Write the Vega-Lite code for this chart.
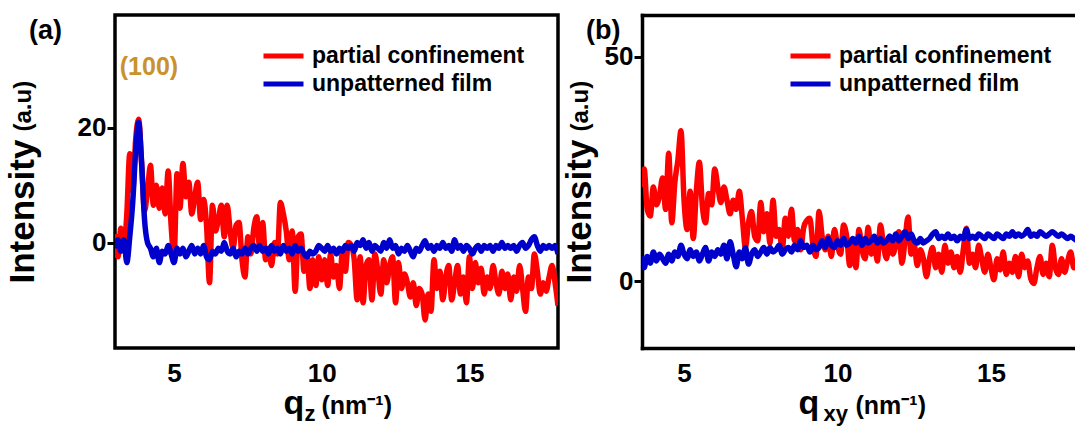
{
  "$schema": "https://vega.github.io/schema/vega-lite/v6.json",
  "padding": {"left": 3, "top": 13, "right": 0, "bottom": 0},
  "spacing": 2,
  "config": {
    "font": "Liberation Sans",
    "view": {"stroke": null},
    "axis": {"labelFont": "Liberation Sans", "titleFont": "Liberation Sans", "labelFontWeight": "bold", "titleFontWeight": "bold", "labelColor": "#000", "titleColor": "#000", "tickColor": "#000", "domainColor": "#000", "grid": false},
    "legend": {"symbolType": "stroke", "symbolSize": 1600, "symbolStrokeWidth": 5, "clipHeight": 28, "labelFont": "Liberation Sans", "labelFontSize": 23, "labelFontWeight": "bold", "labelColor": "#000", "labelOffset": 6, "labelLimit": 400, "rowPadding": 0, "padding": 0, "title": null, "orient": "none", "legendX": 146, "legendY": 27},
    "title": {"font": "Liberation Sans", "fontSize": 27, "fontWeight": "bold", "color": "#000", "anchor": "start", "frame": "group", "baseline": "alphabetic"}
  },
  "datasets": {
    "ann": [{"q": 4.15, "I": 29.2, "t": "(100)"}],
    "dummy": [{"q": 10, "I": 0}],
    "a": [
      {"q":3.0,"r":1.5,"b":-1},{"q":3.1,"r":-2.5,"b":0.5},{"q":3.2,"r":2.5,"b":-1.5},{"q":3.3,"r":-1,"b":0.5},{"q":3.4,"r":5,"b":-3.5},
      {"q":3.5,"r":15.5,"b":1},{"q":3.6,"r":9,"b":7},{"q":3.7,"r":18,"b":16},{"q":3.8,"r":21.5,"b":21},{"q":3.9,"r":14,"b":14},
      {"q":4.0,"r":5.5,"b":4},{"q":4.1,"r":9,"b":0},{"q":4.2,"r":13.5,"b":-1},{"q":4.3,"r":6.5,"b":-2.5},{"q":4.4,"r":10,"b":-1},
      {"q":4.5,"r":6,"b":-3.5},{"q":4.6,"r":9.5,"b":-1.5},{"q":4.7,"r":5,"b":-2},{"q":4.8,"r":12.5,"b":-0.5},{"q":4.9,"r":3,"b":-2},
      {"q":5.0,"r":-2.5,"b":-3.5},{"q":5.1,"r":12,"b":-1},{"q":5.2,"r":6,"b":-2},{"q":5.3,"r":13.8,"b":-1},{"q":5.4,"r":8,"b":-2.5},
      {"q":5.5,"r":10.5,"b":-1.5},{"q":5.6,"r":5,"b":-0.5},{"q":5.7,"r":8,"b":-2},{"q":5.8,"r":10.5,"b":-1},{"q":5.9,"r":4,"b":-2},
      {"q":6.0,"r":7.5,"b":-0.5},{"q":6.1,"r":3,"b":-2.5},{"q":6.2,"r":-7,"b":-3},{"q":6.3,"r":6.5,"b":-1.5},{"q":6.4,"r":2,"b":-2},
      {"q":6.5,"r":4,"b":-1},{"q":6.6,"r":6.5,"b":-1.5},{"q":6.7,"r":1,"b":0},{"q":6.8,"r":6.5,"b":-1.5},{"q":6.9,"r":2,"b":-2},
      {"q":7.0,"r":-1,"b":-1},{"q":7.1,"r":3,"b":-2.5},{"q":7.2,"r":3.5,"b":-1.5},{"q":7.3,"r":-3,"b":-2},{"q":7.4,"r":-6,"b":-1},
      {"q":7.5,"r":1,"b":-2},{"q":7.6,"r":-2,"b":-1},{"q":7.7,"r":2.5,"b":-0.5},{"q":7.8,"r":4.5,"b":-1.5},{"q":7.9,"r":-1,"b":-0.5},
      {"q":8.0,"r":3.5,"b":-1.5},{"q":8.1,"r":-3,"b":-1},{"q":8.2,"r":-1,"b":-2},{"q":8.3,"r":-4,"b":-0.5},{"q":8.4,"r":0,"b":-1.5},
      {"q":8.5,"r":-2,"b":-1},{"q":8.6,"r":7,"b":-2},{"q":8.7,"r":5,"b":-0.5},{"q":8.8,"r":2,"b":-1.5},{"q":8.9,"r":-3,"b":-1},
      {"q":9.0,"r":2,"b":-2},{"q":9.1,"r":-8.5,"b":-0.5},{"q":9.2,"r":1,"b":-1.5},{"q":9.3,"r":1.5,"b":-1},{"q":9.4,"r":-5,"b":-2},
      {"q":9.5,"r":-2,"b":-2.5},{"q":9.6,"r":-8,"b":-1.5},{"q":9.7,"r":-3,"b":-2},{"q":9.8,"r":-7.5,"b":-1.5},{"q":9.9,"r":-2.5,"b":-0.5},
      {"q":10.0,"r":-6.5,"b":-1},{"q":10.1,"r":-3,"b":-1.5},{"q":10.2,"r":-7.5,"b":-0.5},{"q":10.3,"r":-2,"b":-1.5},{"q":10.4,"r":-6,"b":-1},
      {"q":10.5,"r":-4,"b":-2},{"q":10.6,"r":-8,"b":-1},{"q":10.7,"r":-1.5,"b":-1.5},{"q":10.8,"r":-5,"b":-0.5},{"q":10.9,"r":0,"b":-1},
      {"q":11.0,"r":-0.5,"b":-0.5},{"q":11.1,"r":-3,"b":-1.5},{"q":11.2,"r":-10,"b":0},{"q":11.3,"r":-2.5,"b":-0.5},{"q":11.4,"r":-10.5,"b":0.5},
      {"q":11.5,"r":-4,"b":-1},{"q":11.6,"r":-3,"b":0},{"q":11.7,"r":-10,"b":-1.5},{"q":11.8,"r":-2,"b":-0.5},{"q":11.9,"r":-5,"b":-1},
      {"q":12.0,"r":-9,"b":-1.5},{"q":12.1,"r":-3,"b":0},{"q":12.2,"r":-7,"b":-1},{"q":12.3,"r":-4,"b":0.5},{"q":12.4,"r":-2.5,"b":-1},
      {"q":12.5,"r":-10.5,"b":-0.5},{"q":12.6,"r":-3.5,"b":-2},{"q":12.7,"r":-8,"b":-1},{"q":12.8,"r":-5.5,"b":-1.5},{"q":12.9,"r":-7,"b":-0.5},
      {"q":13.0,"r":-9.5,"b":-1.5},{"q":13.1,"r":-7,"b":-2.5},{"q":13.2,"r":-11,"b":-1},{"q":13.3,"r":-8,"b":-1.5},{"q":13.4,"r":-9,"b":-0.5},
      {"q":13.5,"r":-13.5,"b":0.3},{"q":13.6,"r":-9,"b":-1},{"q":13.7,"r":-12,"b":-0.5},{"q":13.8,"r":-3,"b":-1.5},{"q":13.9,"r":-8,"b":-0.5},
      {"q":14.0,"r":-5,"b":-1},{"q":14.1,"r":-10,"b":0},{"q":14.2,"r":-6,"b":-1},{"q":14.3,"r":-4,"b":-0.5},{"q":14.4,"r":-10,"b":-1.5},
      {"q":14.5,"r":-7,"b":0.5},{"q":14.6,"r":-4,"b":-1},{"q":14.7,"r":-9,"b":-0.5},{"q":14.8,"r":-6,"b":-1.5},{"q":14.9,"r":-10.5,"b":-0.5},
      {"q":15.0,"r":-2.5,"b":-1},{"q":15.1,"r":-8,"b":-2},{"q":15.2,"r":-3.5,"b":-1},{"q":15.3,"r":-7,"b":-0.5},{"q":15.4,"r":-4.5,"b":-1.5},
      {"q":15.5,"r":-9,"b":-0.5},{"q":15.6,"r":-6,"b":-1},{"q":15.7,"r":-8,"b":-0.5},{"q":15.8,"r":-4,"b":-1.5},{"q":15.9,"r":-7,"b":-0.5},
      {"q":16.0,"r":-9,"b":-1},{"q":16.1,"r":-5,"b":0},{"q":16.2,"r":-8,"b":-1},{"q":16.3,"r":-5.5,"b":-0.5},{"q":16.4,"r":-10,"b":-1},
      {"q":16.5,"r":-6,"b":-0.5},{"q":16.6,"r":-8.5,"b":-1.5},{"q":16.7,"r":-4,"b":-0.5},{"q":16.8,"r":-8,"b":0},{"q":16.9,"r":-12,"b":-1},
      {"q":17.0,"r":-6,"b":-0.5},{"q":17.1,"r":-8,"b":0.5},{"q":17.2,"r":-2,"b":1},{"q":17.3,"r":-5,"b":-0.5},{"q":17.4,"r":-9,"b":-1.5},
      {"q":17.5,"r":-7,"b":-0.5},{"q":17.6,"r":-8.5,"b":-1},{"q":17.7,"r":-6,"b":-0.5},{"q":17.8,"r":-4,"b":-1},{"q":17.9,"r":-7,"b":-0.5},
      {"q":18.0,"r":-11,"b":-2}
    ],
    "b": [
      {"q":3.6,"r":21,"b":5.5},{"q":3.7,"r":25,"b":3},{"q":3.8,"r":16,"b":5.5},{"q":3.9,"r":14.5,"b":4},{"q":4.0,"r":21,"b":6.5},
      {"q":4.1,"r":17,"b":4.5},{"q":4.2,"r":19,"b":6},{"q":4.3,"r":23,"b":5},{"q":4.4,"r":16,"b":4},{"q":4.5,"r":28.5,"b":6},
      {"q":4.6,"r":13,"b":4.5},{"q":4.7,"r":22,"b":6.5},{"q":4.8,"r":27,"b":5.5},{"q":4.9,"r":33.5,"b":8},{"q":5.0,"r":18,"b":6},
      {"q":5.1,"r":11.5,"b":5},{"q":5.2,"r":20,"b":7},{"q":5.3,"r":9.5,"b":5.5},{"q":5.4,"r":20,"b":6.5},{"q":5.5,"r":26.5,"b":4.5},
      {"q":5.6,"r":16.5,"b":6},{"q":5.7,"r":13,"b":7.5},{"q":5.8,"r":19.5,"b":4.5},{"q":5.9,"r":17,"b":6.5},{"q":6.0,"r":25,"b":5.5},
      {"q":6.1,"r":21,"b":7},{"q":6.2,"r":17.5,"b":6},{"q":6.3,"r":21,"b":8},{"q":6.4,"r":18,"b":5},{"q":6.5,"r":15,"b":8.8},
      {"q":6.6,"r":18,"b":6},{"q":6.7,"r":16,"b":3.2},{"q":6.8,"r":20,"b":6.5},{"q":6.9,"r":14,"b":5},{"q":7.0,"r":7.5,"b":7.5},
      {"q":7.1,"r":13,"b":3.8},{"q":7.2,"r":15.5,"b":6},{"q":7.3,"r":10,"b":7},{"q":7.4,"r":9,"b":5.5},{"q":7.5,"r":17.5,"b":6.5},
      {"q":7.6,"r":11,"b":7.5},{"q":7.7,"r":15,"b":6},{"q":7.8,"r":8.5,"b":7.5},{"q":7.9,"r":18,"b":6.5},{"q":8.0,"r":10,"b":7},
      {"q":8.1,"r":11.5,"b":8},{"q":8.2,"r":7,"b":6},{"q":8.3,"r":14,"b":7},{"q":8.4,"r":10,"b":7.5},{"q":8.5,"r":16,"b":6.5},
      {"q":8.6,"r":9,"b":8},{"q":8.7,"r":11.5,"b":7},{"q":8.8,"r":7,"b":9},{"q":8.9,"r":12,"b":7.5},{"q":9.0,"r":13.5,"b":8},
      {"q":9.1,"r":14,"b":6.5},{"q":9.2,"r":8,"b":8},{"q":9.3,"r":5.5,"b":7},{"q":9.4,"r":15.5,"b":7.5},{"q":9.5,"r":10,"b":9},
      {"q":9.6,"r":7,"b":7.5},{"q":9.7,"r":10,"b":9.5},{"q":9.8,"r":5.5,"b":8},{"q":9.9,"r":11.5,"b":7.5},{"q":10.0,"r":8,"b":9},
      {"q":10.1,"r":6,"b":8},{"q":10.2,"r":12.5,"b":9.5},{"q":10.3,"r":10,"b":8},{"q":10.4,"r":3.5,"b":8.5},{"q":10.5,"r":8,"b":9.5},
      {"q":10.6,"r":3,"b":8.5},{"q":10.7,"r":11.5,"b":10},{"q":10.8,"r":7,"b":8},{"q":10.9,"r":5,"b":9.5},{"q":11.0,"r":12,"b":8.5},
      {"q":11.1,"r":6,"b":9},{"q":11.2,"r":9,"b":10},{"q":11.3,"r":4.5,"b":8.5},{"q":11.4,"r":12.5,"b":9.5},{"q":11.5,"r":8,"b":8.5},
      {"q":11.6,"r":5,"b":9},{"q":11.7,"r":10,"b":10},{"q":11.8,"r":6,"b":9},{"q":11.9,"r":8,"b":10.5},{"q":12.0,"r":11,"b":9},
      {"q":12.1,"r":4,"b":10},{"q":12.2,"r":9,"b":11},{"q":12.3,"r":14.3,"b":9.5},{"q":12.4,"r":6,"b":10.5},{"q":12.5,"r":8,"b":9},
      {"q":12.6,"r":3.5,"b":8.5},{"q":12.7,"r":7,"b":9.5},{"q":12.8,"r":5,"b":8.5},{"q":12.9,"r":1,"b":9},{"q":13.0,"r":5,"b":9.5},
      {"q":13.1,"r":7.5,"b":10.5},{"q":13.2,"r":3,"b":11},{"q":13.3,"r":6,"b":9.5},{"q":13.4,"r":2,"b":10},{"q":13.5,"r":8,"b":9.5},
      {"q":13.6,"r":4,"b":10.5},{"q":13.7,"r":6.5,"b":9.5},{"q":13.8,"r":3,"b":10},{"q":13.9,"r":5.5,"b":9},{"q":14.0,"r":2,"b":10},
      {"q":14.1,"r":7,"b":9.5},{"q":14.2,"r":11.8,"b":11.5},{"q":14.3,"r":4,"b":9.5},{"q":14.4,"r":6,"b":10},{"q":14.5,"r":3,"b":9.5},
      {"q":14.6,"r":8,"b":10.5},{"q":14.7,"r":5,"b":10},{"q":14.8,"r":2,"b":9.5},{"q":14.9,"r":6,"b":10.5},{"q":15.0,"r":3,"b":10},
      {"q":15.1,"r":0.3,"b":9.5},{"q":15.2,"r":5,"b":10.5},{"q":15.3,"r":2.5,"b":10},{"q":15.4,"r":6.5,"b":9.5},{"q":15.5,"r":1.5,"b":10.5},
      {"q":15.6,"r":4,"b":10},{"q":15.7,"r":2,"b":11},{"q":15.8,"r":5.5,"b":10},{"q":15.9,"r":1,"b":10.5},{"q":16.0,"r":6,"b":10},
      {"q":16.1,"r":3,"b":10.5},{"q":16.2,"r":4.5,"b":11.5},{"q":16.3,"r":0.5,"b":10},{"q":16.4,"r":-0.5,"b":10.5},{"q":16.5,"r":3,"b":10},
      {"q":16.6,"r":5.5,"b":11},{"q":16.7,"r":1.5,"b":10.5},{"q":16.8,"r":4,"b":10},{"q":16.9,"r":1,"b":10.5},{"q":17.0,"r":8,"b":11},
      {"q":17.1,"r":3,"b":10.5},{"q":17.2,"r":1.5,"b":10},{"q":17.3,"r":5,"b":10.5},{"q":17.4,"r":2,"b":10},{"q":17.5,"r":4.5,"b":9.5},
      {"q":17.6,"r":6.5,"b":10},{"q":17.7,"r":3,"b":9.5},{"q":17.8,"r":5,"b":9}
    ]
  },
  "resolve": {"scale": {"color": "independent"}, "legend": {"color": "independent"}},
  "hconcat": [
    {
      "width": 443,
      "height": 333,
      "view": {"stroke": "#000", "strokeWidth": 3.5},
      "title": {"text": "(a)", "dx": -86, "dy": 34},
      "resolve": {"axis": {"x": "independent", "y": "independent"}},
      "layer": [
        {
          "data": {"name": "a"},
          "transform": [{"fold": ["r", "b"], "as": ["k", "I"]}],
          "mark": {"type": "line", "strokeWidth": 5.5, "clip": true, "interpolate": "monotone"},
          "encoding": {
            "x": {"field": "q", "type": "quantitative", "scale": {"domain": [3, 18], "nice": false, "zero": false},
                  "axis": {"orient": "bottom", "values": [5, 10, 15], "ticks": false, "domain": false, "labelFontSize": 26, "labelPadding": 12,
                           "title": "q", "titleFontSize": 34, "titleX": 168, "titleY": 65, "titleAlign": "left", "titleBaseline": "alphabetic"}},
            "y": {"field": "I", "type": "quantitative", "scale": {"domain": [-18.4, 39.7], "nice": false, "zero": false},
                  "axis": {"orient": "left", "values": [0, 20], "tickSize": 8, "tickWidth": 3, "domain": false, "labelFontSize": 26, "labelPadding": 1,
                           "title": "Intensity", "titleFontSize": 35, "titleAngle": -90, "titleX": -82, "titleY": 268, "titleAlign": "left", "titleBaseline": "alphabetic"}},
            "color": {"field": "k", "type": "nominal", "sort": null,
                      "scale": {"domain": ["r", "b"], "range": ["#ff0000", "#0000cc"]},
                      "legend": {"labelExpr": "datum.value == 'r' ? 'partial confinement' : 'unpatterned film'"}}
          }
        },
        {
          "data": {"name": "ann"},
          "mark": {"type": "text", "fontSize": 25, "fontWeight": "bold", "color": "#c9922a", "align": "center", "baseline": "alphabetic", "font": "Liberation Sans"},
          "encoding": {
            "x": {"field": "q", "type": "quantitative",
                  "axis": {"orient": "bottom", "labels": false, "ticks": false, "domain": false, "title": "z", "titleFontSize": 22, "titleX": 189, "titleY": 72, "titleAlign": "left", "titleBaseline": "alphabetic"}},
            "y": {"field": "I", "type": "quantitative",
                  "axis": {"orient": "left", "labels": false, "ticks": false, "domain": false, "title": "(a.u)", "titleFontSize": 24, "titleAngle": -90, "titleX": -85, "titleY": 116, "titleAlign": "left", "titleBaseline": "alphabetic"}},
            "text": {"field": "t"}
          }
        },
        {
          "data": {"name": "ann"},
          "mark": {"type": "point", "opacity": 0},
          "encoding": {
            "x": {"field": "q", "type": "quantitative",
                  "axis": {"orient": "bottom", "labels": false, "ticks": false, "domain": false, "title": "(nm⁻¹)", "titleFontSize": 25, "titleX": 206, "titleY": 65, "titleAlign": "left", "titleBaseline": "alphabetic"}},
            "y": {"field": "I", "type": "quantitative", "axis": null}
          }
        }
      ]
    },
    {
      "width": 433,
      "height": 333,
      "title": {"text": "(b)", "dx": -56, "dy": 34},
      "resolve": {"axis": {"x": "independent", "y": "independent"}},
      "layer": [
        {
          "data": {"name": "b"},
          "transform": [{"fold": ["r", "b"], "as": ["k", "I"]}],
          "mark": {"type": "line", "strokeWidth": 5.5, "clip": true, "interpolate": "monotone"},
          "encoding": {
            "x": {"field": "q", "type": "quantitative", "scale": {"domain": [3.63, 17.74], "nice": false, "zero": false},
                  "axis": {"orient": "bottom", "values": [5, 10, 15], "ticks": false, "domain": true, "domainWidth": 3.5, "domainCap": "square", "labelFontSize": 26, "labelPadding": 12,
                           "title": "q", "titleFontSize": 34, "titleX": 156, "titleY": 65, "titleAlign": "left", "titleBaseline": "alphabetic"}},
            "y": {"field": "I", "type": "quantitative", "scale": {"domain": [-14.9, 59.3], "nice": false, "zero": false},
                  "axis": {"orient": "left", "values": [0, 50], "tickSize": 8, "tickWidth": 3, "domain": true, "domainWidth": 3.5, "domainCap": "square", "labelFontSize": 26, "labelPadding": 1,
                           "title": "Intensity", "titleFontSize": 35, "titleAngle": -90, "titleX": -52, "titleY": 268, "titleAlign": "left", "titleBaseline": "alphabetic"}},
            "color": {"field": "k", "type": "nominal", "sort": null,
                      "scale": {"domain": ["r", "b"], "range": ["#ff0000", "#0000cc"]},
                      "legend": {"labelExpr": "datum.value == 'r' ? 'partial confinement' : 'unpatterned film'"}}
          }
        },
        {
          "data": {"name": "dummy"},
          "mark": {"type": "point", "opacity": 0},
          "encoding": {
            "x": {"field": "q", "type": "quantitative",
                  "axis": {"orient": "bottom", "labels": false, "ticks": false, "domain": false, "title": "xy", "titleFontSize": 22, "titleX": 181, "titleY": 72, "titleAlign": "left", "titleBaseline": "alphabetic"}},
            "y": {"field": "I", "type": "quantitative",
                  "axis": {"orient": "left", "labels": false, "ticks": false, "domain": false, "title": "(a.u)", "titleFontSize": 24, "titleAngle": -90, "titleX": -55, "titleY": 116, "titleAlign": "left", "titleBaseline": "alphabetic"}}
          }
        },
        {
          "data": {"name": "dummy"},
          "mark": {"type": "point", "opacity": 0},
          "encoding": {
            "x": {"field": "q", "type": "quantitative",
                  "axis": {"orient": "bottom", "labels": false, "ticks": false, "domain": false, "title": "(nm⁻¹)", "titleFontSize": 25, "titleX": 213, "titleY": 65, "titleAlign": "left", "titleBaseline": "alphabetic"}},
            "y": {"field": "I", "type": "quantitative", "axis": null}
          }
        },
        {
          "data": {"name": "dummy"},
          "mark": {"type": "point", "opacity": 0},
          "encoding": {
            "x": {"field": "q", "type": "quantitative",
                  "axis": {"orient": "top", "labels": false, "ticks": false, "domain": true, "domainWidth": 3.5, "domainCap": "square", "title": null}},
            "y": {"field": "I", "type": "quantitative", "axis": null}
          }
        }
      ]
    }
  ]
}
